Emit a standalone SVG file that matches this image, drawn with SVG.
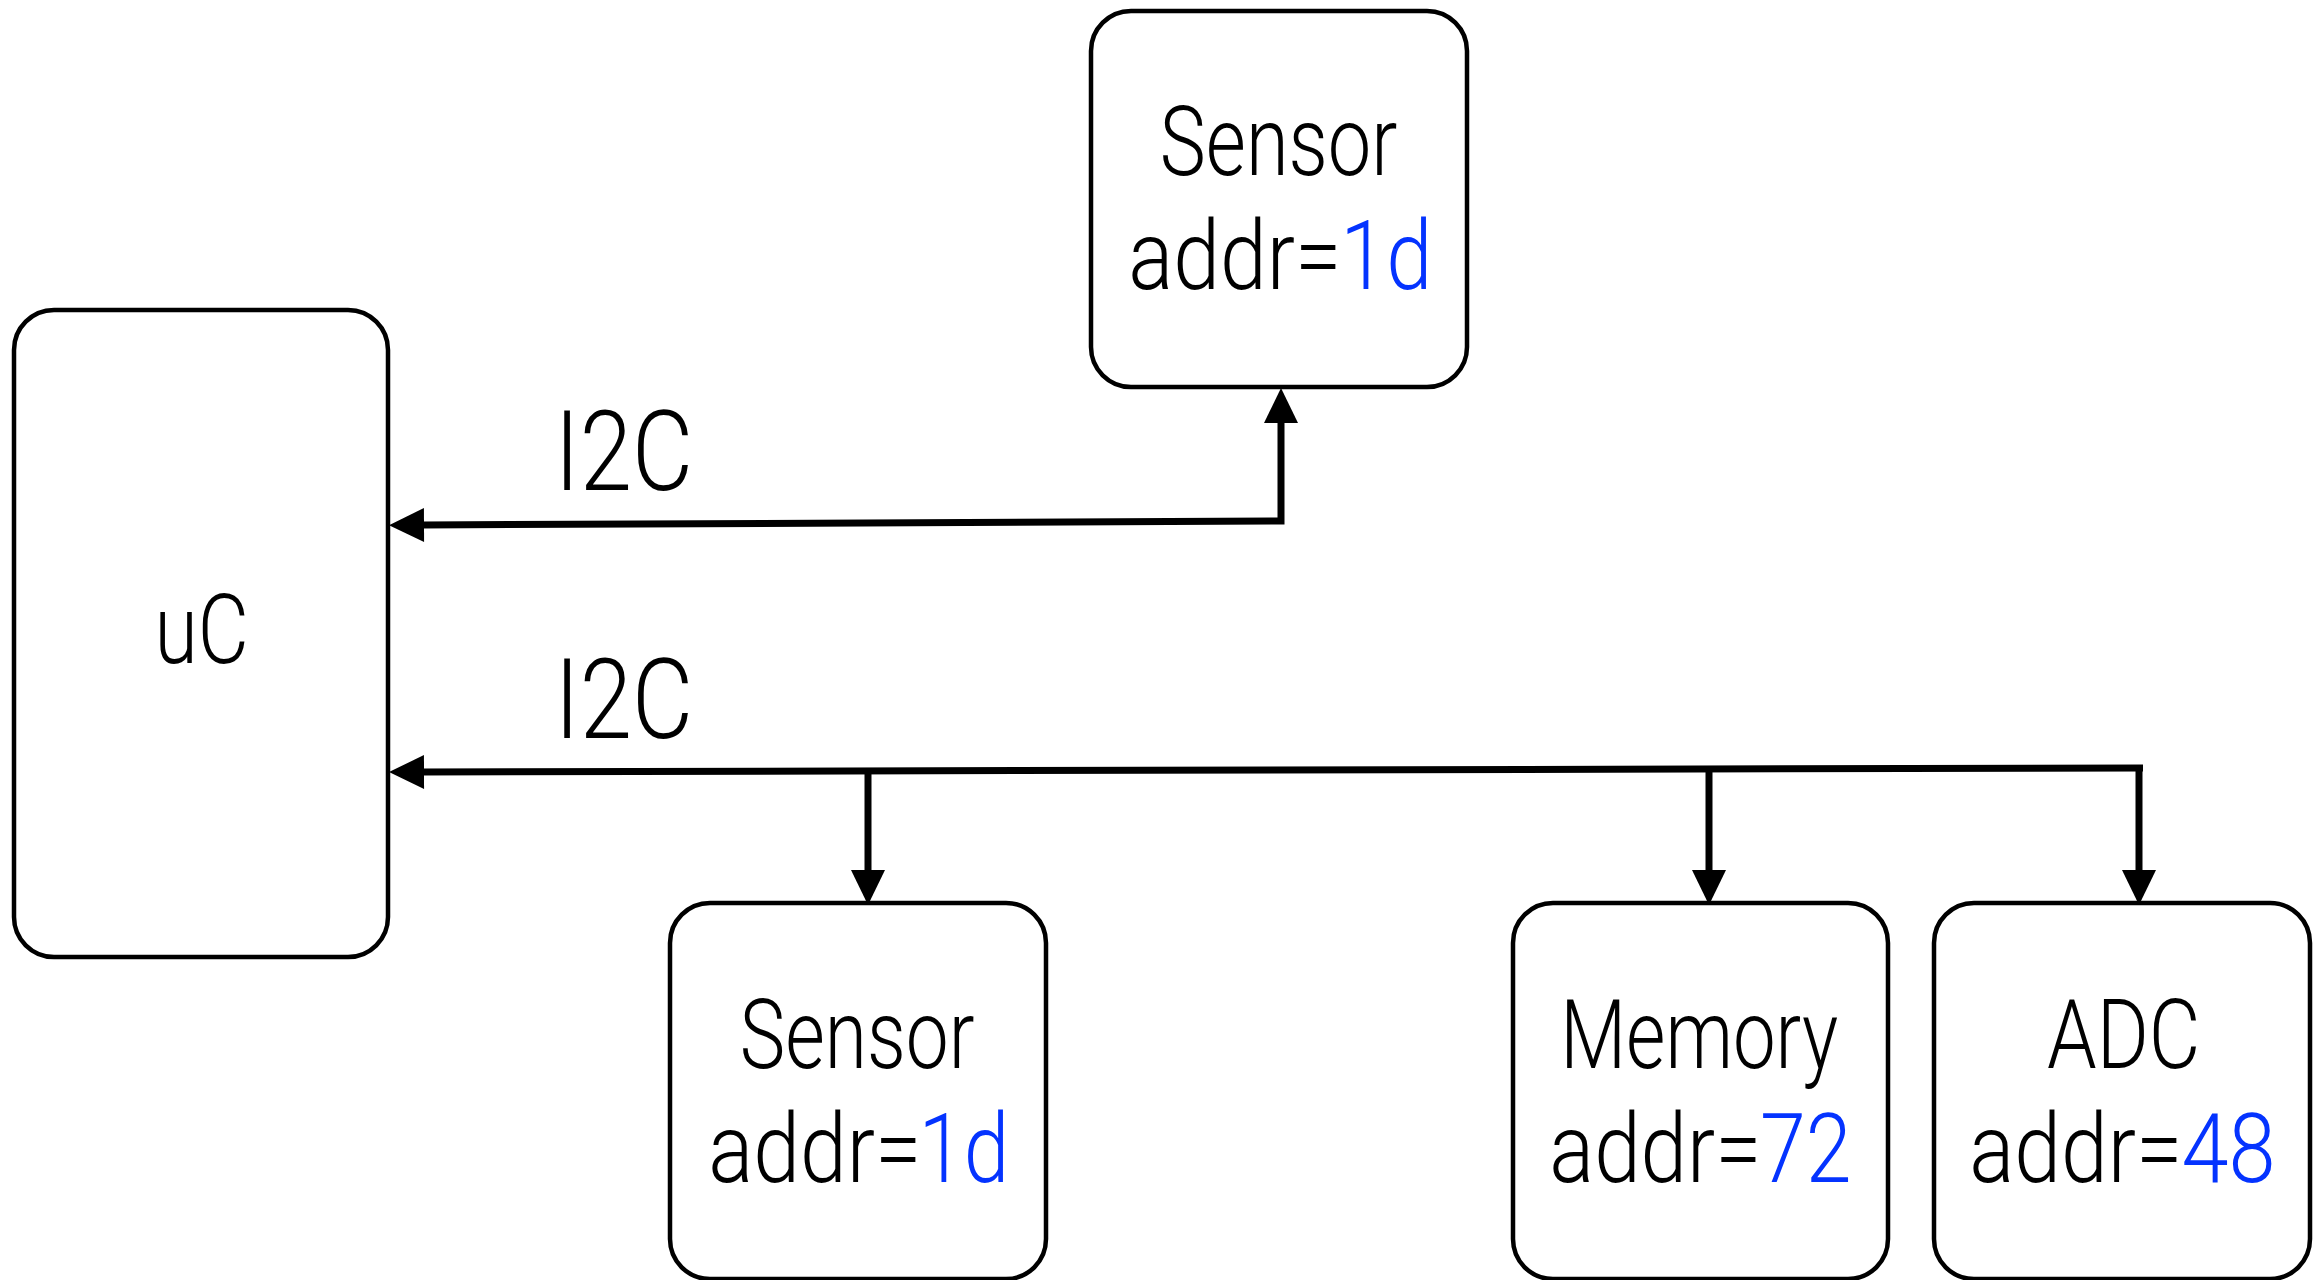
<svg xmlns="http://www.w3.org/2000/svg" width="2320" height="1280" viewBox="0 0 2320 1280">
  <defs>
    <style>
      .box { fill: #ffffff; stroke: #000000; stroke-width: 4.5; }
      .t { font-family: Roboto, "Liberation Sans", sans-serif; font-weight: 300; fill: #000000; }
      .n { font-size: 96px; }
      .lbl { font-size: 112px; }
      .v { fill: #0433ff; }
      .wire { fill: none; stroke: #000000; stroke-width: 7; stroke-linejoin: miter; stroke-linecap: butt; }
    </style>
    <marker id="ah" markerUnits="userSpaceOnUse" markerWidth="40" markerHeight="40" refX="1" refY="0" orient="auto-start-reverse" overflow="visible">
      <path d="M0,-17 L35,0 L0,17 Z" fill="#000000"/>
    </marker>
  </defs>
  <rect width="2320" height="1280" fill="#ffffff"/>

  <g id="uC">
    <rect class="box" x="14" y="310" width="374" height="647" rx="40" ry="40"/>
    <text class="t" font-size="97" transform="translate(154.5,663) scale(0.811,1)">uC</text>
  </g>

  <g id="sensor-top">
    <rect class="box" x="1091" y="11" width="376" height="376" rx="40" ry="40"/>
    <text class="t n" transform="translate(1159.8,175) scale(0.808,1)">Sensor</text>
    <text class="t n" transform="translate(1128.3,289) scale(0.875,1)">addr=</text>
    <text class="t n v" transform="translate(1340.3,289) scale(0.864,1)">1d</text>
  </g>

  <g id="sensor-bottom">
    <rect class="box" x="670" y="903" width="376" height="376" rx="40" ry="40"/>
    <text class="t n" transform="translate(739.8,1068) scale(0.798,1)">Sensor</text>
    <text class="t n" transform="translate(708.3,1182) scale(0.875,1)">addr=</text>
    <text class="t n v" transform="translate(918.4,1182) scale(0.853,1)">1d</text>
  </g>

  <g id="memory">
    <rect class="box" x="1513" y="903" width="375" height="376" rx="40" ry="40"/>
    <text class="t n" transform="translate(1560.2,1068) scale(0.793,1)">Memory</text>
    <text class="t n" transform="translate(1549.3,1182) scale(0.871,1)">addr=</text>
    <text class="t n v" transform="translate(1760,1182) scale(0.859,1)">72</text>
  </g>

  <g id="adc">
    <rect class="box" x="1934" y="903" width="376" height="376" rx="40" ry="40"/>
    <text class="t n" transform="translate(2047,1068) scale(0.829,1)">ADC</text>
    <text class="t n" transform="translate(1969.3,1182) scale(0.875,1)">addr=</text>
    <text class="t n v" transform="translate(2181.4,1182) scale(0.883,1)">48</text>
  </g>

  <g id="connectors">
    <path class="wire" d="M423,525 L1281,521 L1281,422" marker-start="url(#ah)" marker-end="url(#ah)"/>
    <text class="t lbl" transform="translate(554.6,490) scale(0.841,1)">I2C</text>
    <path class="wire" d="M423,772 L2143,768" marker-start="url(#ah)"/>
    <path class="wire" d="M868,771 L868,871" marker-end="url(#ah)"/>
    <path class="wire" d="M1709,769 L1709,871" marker-end="url(#ah)"/>
    <path class="wire" d="M2139,768 L2139,871" marker-end="url(#ah)"/>
    <text class="t lbl" transform="translate(554.6,738) scale(0.841,1)">I2C</text>
  </g>
</svg>
